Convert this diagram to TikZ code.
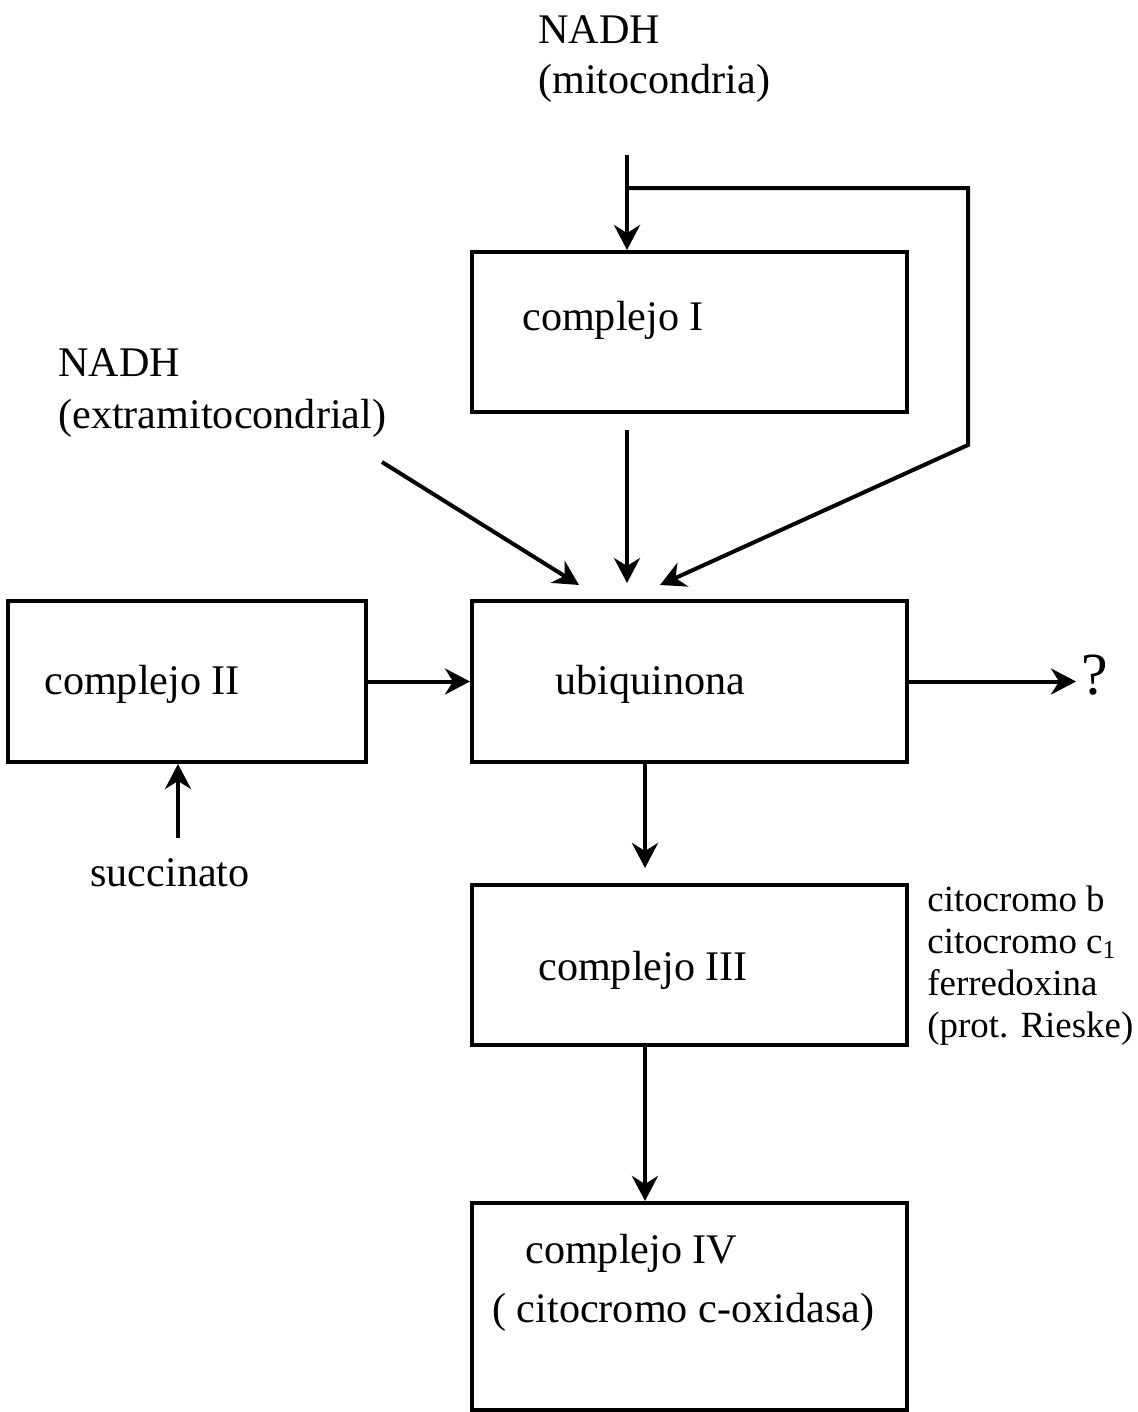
\documentclass[tikz,border=0pt]{standalone}
\usepackage{fontspec}
\setmainfont{Liberation Serif}
\usetikzlibrary{arrows.meta}
\tikzset{
  caja/.style={draw, line width=0.8mm, minimum width=8.7cm, minimum height=3.2cm, inner sep=0pt},
  flecha/.style={line width=0.8mm, -{Stealth[length=5mm,width=5.2mm,inset=1.6mm]}},
  rotulo/.style={anchor=base west, inner sep=0pt, font=\fontsize{24}{29}\selectfont},
  nota/.style={anchor=base west, inner sep=0pt, font=\fontsize{21}{24}\selectfont}
}

\begin{document}
\begin{tikzpicture}[x=0.2mm, y=-0.2mm]
	%%%%% START %%%%%
	\useasboundingbox (0,0) rectangle (1137,1412);
	
	\node[caja] (c1) at (689.5,332) {};
	\node[caja, minimum width=7.16cm, minimum height=3.22cm] (c2) at (187,681.5) {};
	\node[caja, minimum height=3.22cm] (ubq) at (689.5,681.5) {};
	\node[caja] (c3) at (689.5,965) {};
	\node[caja, minimum height=4.14cm] (c4) at (689.5,1306.5) {};
	
	\node[rotulo] (nadhm) at (538,44) {NADH};
	\node[rotulo] (mito) at (538,94) {(mitocondria)};
	\node[rotulo] (nadhe) at (58,376) {NADH};
	\node[rotulo] (extra) at (58,428) {(extramitocondrial)};
	
	\node[rotulo] (t1) at (522,330) {complejo I};
	\node[rotulo] (t2) at (44,694) {complejo II};
	\node[rotulo] (tu) at (555,694) {ubiquinona};
	\node[rotulo] (succ) at (90,886) {succinato};
	\node[rotulo] (t3) at (538,980) {complejo III};
	\node[rotulo] (t4) at (525,1263) {complejo IV};
	\node[rotulo] (t4b) at (492,1322) {( citocromo c-oxidasa)};
	\node[rotulo, font=\fontsize{34}{40}\selectfont] (preg) at (1081,694) {?};
	
	\node[nota] (n1) at (927,911) {citocromo b};
	\node[nota] (n2) at (927,953) {citocromo c\textsubscript{1}};
	\node[nota] (n3) at (927,995) {ferredoxina};
	\node[nota] (n4) at (927,1037) {(prot. Rieske)};
	
	\coordinate (m0) at (627,155);
	\coordinate (m1) at (627,188);
	\coordinate (m2) at (968,188);
	\coordinate (m3) at (968,445);
	\coordinate (r1) at (660,585);
	\coordinate (e0) at (382,462);
	\coordinate (e1) at (579,585);
	\coordinate (s0) at (178,838);
	\coordinate (q) at (1076,681.5);
	\coordinate (x3) at (645,0);
	
	\draw[flecha] (m0) -- (m0 |- c1.north);
	\draw[flecha] (m1) -- (m2) -- (m3) -- (r1);
	\draw[flecha, shorten <=3.2mm, shorten >=3.2mm] (c1.south -| m0) -- (ubq.north -| m0);
	\draw[flecha] (e0) -- (e1);
	\draw[flecha] (c2.east) -- (ubq.west);
	\draw[flecha] (s0) -- (s0 |- c2.south);
	\draw[flecha] (ubq.east) -- (q);
	\draw[flecha, shorten >=3mm] (ubq.south -| x3) -- (c3.north -| x3);
	\draw[flecha] (c3.south -| x3) -- (c4.north -| x3);
	
	%%%%% END %%%%%
\end{tikzpicture}
\end{document}
